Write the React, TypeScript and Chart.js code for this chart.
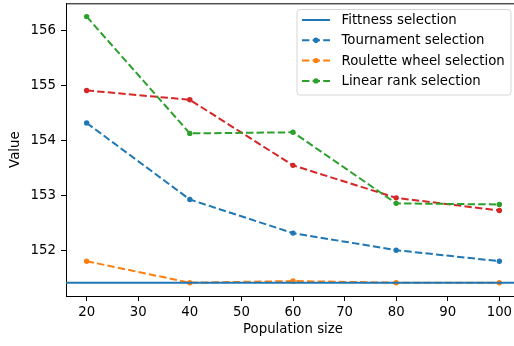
import React, { useEffect, useRef } from "react";
import { Chart, registerables } from "chart.js";

Chart.register(...registerables);

// Population sizes tested
const populationSizes = [20, 40, 60, 80, 100];

// Best value reached by each selection scheme
const fitnessSelection = 151.42;
const tournamentSelection = [154.32, 152.93, 152.32, 152.01, 151.81];
const rouletteWheelSelection = [151.81, 151.42, 151.45, 151.42, 151.42];
const linearRankSelection = [156.25, 154.13, 154.15, 152.86, 152.84];
const extraRun = [154.91, 154.74, 153.55, 152.96, 152.73];

const xTickValues = [20, 30, 40, 50, 60, 70, 80, 90, 100];
const yTickValues = [152, 153, 154, 155, 156];

const BLUE = "#1f77b4";
const ORANGE = "#ff7f0e";
const GREEN = "#2ca02c";
const RED = "#d62728";
const FONT = "'DejaVu Sans', sans-serif";
const FONT_SIZE = 13.3;
const DASH = [7.4, 3.2];

// Axis limits with a 5% margin around the data, like matplotlib's autoscale
const xSpan = populationSizes[populationSizes.length - 1] - populationSizes[0];
const xMin = populationSizes[0] - 0.05 * xSpan;
const xMax = populationSizes[populationSizes.length - 1] + 0.05 * xSpan;
const allValues = [fitnessSelection, ...tournamentSelection, ...rouletteWheelSelection, ...linearRankSelection, ...extraRun];
const vMin = Math.min(...allValues);
const vMax = Math.max(...allValues);
const yMin = vMin - 0.05 * (vMax - vMin);
const yMax = vMax + 0.05 * (vMax - vMin);

const toPoints = (values: number[]) => values.map((v, i) => ({ x: populationSizes[i], y: v }));

const legendItems = [
  { label: "Fittness selection", color: BLUE, dashed: false, marker: false },
  { label: "Tournament selection", color: BLUE, dashed: true, marker: true },
  { label: "Roulette wheel selection", color: ORANGE, dashed: true, marker: true },
  { label: "Linear rank selection", color: GREEN, dashed: true, marker: true },
];

const framePlugin = {
  id: "frame",
  afterDraw(chart: any) {
    const { ctx, chartArea } = chart;
    const { left, right, top, bottom } = chartArea;
    ctx.save();
    // top spine
    ctx.strokeStyle = "#000";
    ctx.lineWidth = 1;
    ctx.beginPath();
    ctx.moveTo(left, top + 0.5);
    ctx.lineTo(right, top + 0.5);
    ctx.stroke();

    // axis titles
    ctx.fillStyle = "#000";
    ctx.font = `${FONT_SIZE}px ${FONT}`;
    ctx.textAlign = "center";
    ctx.textBaseline = "middle";
    ctx.fillText("Population size", (left + right) / 2, 330);
    ctx.save();
    ctx.translate(16, (top + bottom) / 2);
    ctx.rotate(-Math.PI / 2);
    ctx.fillText("Value", 0, 0);
    ctx.restore();

    // legend box
    const bx = 297, by = 9.5, bw = 214, bh = 85.5, r = 3;
    ctx.beginPath();
    ctx.moveTo(bx + r, by);
    ctx.lineTo(bx + bw - r, by);
    ctx.quadraticCurveTo(bx + bw, by, bx + bw, by + r);
    ctx.lineTo(bx + bw, by + bh - r);
    ctx.quadraticCurveTo(bx + bw, by + bh, bx + bw - r, by + bh);
    ctx.lineTo(bx + r, by + bh);
    ctx.quadraticCurveTo(bx, by + bh, bx, by + bh - r);
    ctx.lineTo(bx, by + r);
    ctx.quadraticCurveTo(bx, by, bx + r, by);
    ctx.closePath();
    ctx.fillStyle = "rgba(255,255,255,0.8)";
    ctx.fill();
    ctx.strokeStyle = "rgba(204,204,204,0.8)";
    ctx.lineWidth = 1;
    ctx.stroke();

    legendItems.forEach((item, i) => {
      const y = 20 + i * 20.3;
      ctx.strokeStyle = item.color;
      ctx.lineWidth = 2;
      ctx.setLineDash(item.dashed ? DASH : []);
      ctx.beginPath();
      ctx.moveTo(302, y);
      ctx.lineTo(330, y);
      ctx.stroke();
      ctx.setLineDash([]);
      if (item.marker) {
        ctx.fillStyle = item.color;
        ctx.beginPath();
        ctx.arc(316, y, 2.7, 0, Math.PI * 2);
        ctx.fill();
      }
      ctx.fillStyle = "#000";
      ctx.textAlign = "left";
      ctx.textBaseline = "middle";
      ctx.fillText(item.label, 341.5, y + 0.5);
    });
    ctx.restore();
  },
};

const dashedSeries = (label: string, values: number[], color: string) => ({
  label,
  data: toPoints(values),
  borderColor: color,
  backgroundColor: color,
  borderWidth: 2,
  borderDash: DASH,
  pointRadius: 2.7,
  pointBorderWidth: 0,
  pointBackgroundColor: color,
  tension: 0,
});

export default function App() {
  const canvasRef = useRef<HTMLCanvasElement | null>(null);

  useEffect(() => {
    const canvas = canvasRef.current;
    if (!canvas) return;
    const chart = new Chart(canvas, {
      type: "line",
      data: {
        datasets: [
          {
            label: "Fittness selection",
            data: [
              { x: xMin, y: fitnessSelection },
              { x: xMax, y: fitnessSelection },
            ],
            borderColor: BLUE,
            borderWidth: 2,
            pointRadius: 0,
          },
          dashedSeries("Tournament selection", tournamentSelection, BLUE),
          dashedSeries("Roulette wheel selection", rouletteWheelSelection, ORANGE),
          dashedSeries("Linear rank selection", linearRankSelection, GREEN),
          dashedSeries("", extraRun, RED),
        ],
      },
      options: {
        animation: false,
        responsive: false,
        devicePixelRatio: 1,
        layout: { autoPadding: false, padding: { top: 3.3, right: 10, left: 0, bottom: 0 } },
        plugins: { legend: { display: false }, tooltip: { enabled: false } },
        scales: {
          x: {
            type: "linear",
            min: xMin,
            max: xMax,
            afterBuildTicks: (scale: any) => {
              scale.ticks = xTickValues.map((v) => ({ value: v }));
            },
            afterFit: (scale: any) => {
              scale.height = 50;
              scale.paddingLeft = 0;
              scale.paddingRight = 0;
            },
            grid: {
              drawOnChartArea: false,
              drawTicks: true,
              tickLength: 5,
              color: "#000",
              tickWidth: 1,
            },
            border: { display: true, color: "#000", width: 1 },
            ticks: {
              color: "#000",
              padding: 4,
              maxRotation: 0,
              autoSkip: false,
              font: { family: FONT, size: FONT_SIZE },
            },
          },
          y: {
            type: "linear",
            min: yMin,
            max: yMax,
            afterBuildTicks: (scale: any) => {
              scale.ticks = yTickValues.map((v) => ({ value: v }));
            },
            afterFit: (scale: any) => {
              scale.width = 66;
              scale.paddingTop = 0;
              scale.paddingBottom = 0;
            },
            grid: {
              drawOnChartArea: false,
              drawTicks: true,
              tickLength: 5,
              color: "#000",
              tickWidth: 1,
            },
            border: { display: true, color: "#000", width: 1 },
            ticks: {
              color: "#000",
              padding: 5,
              autoSkip: false,
              font: { family: FONT, size: FONT_SIZE },
            },
          },
        },
      },
      plugins: [framePlugin],
    } as any);
    return () => chart.destroy();
  }, []);

  return (
    <div
      style={{
        position: "fixed",
        left: 0,
        top: 0,
        width: 514,
        height: 346,
        overflow: "hidden",
        background: "#fff",
      }}
    >
      <canvas ref={canvasRef} width={530} height={346} style={{ width: 530, height: 346, display: "block" }} />
    </div>
  );
}
